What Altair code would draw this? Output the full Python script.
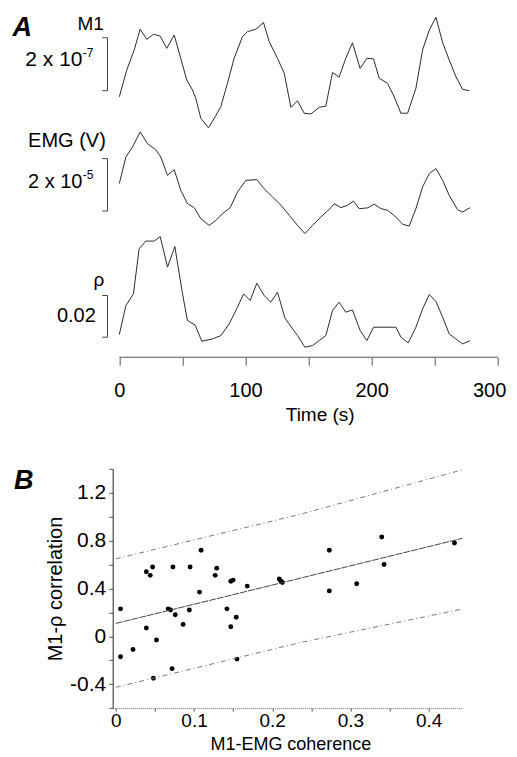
import altair as alt
import pandas as pd

FONT = "Liberation Sans"

# ---------------- Panel A data ----------------
m1_t = [0, 5.9, 11.8, 16.5, 21.8, 27.1, 32.4, 37.6, 43.5, 48.7, 53.5, 58.0, 60.6, 64.6, 70.7,
        76.0, 80.5, 85.7, 91.0, 97.6, 101.6, 108.2, 114.3, 118.8, 125.4, 130.7, 136.0, 141.2,
        146.5, 151.8, 158.4, 163.7, 169.0, 174.2, 179.5, 184.8, 190.9, 196.2, 201.5, 206.0,
        212.6, 217.9, 223.2, 228.5, 235.1, 240.4, 245.7, 251.0, 256.3, 261.5, 266.8, 272.1, 277.4]
m1_v = [-0.23, 0.78, 1.54, 2.32, 1.94, 2.13, 2.06, 1.60, 2.10, 1.22, 0.40, 0.03, -0.29, -1.04,
        -1.40, -0.98, -0.60, 0.28, 1.22, 2.04, 2.23, 2.32, 2.57, 1.85, 1.22, 0.66, -0.63, -0.38,
        -0.85, -0.88, -0.63, -0.58, 0.69, 0.51, 1.22, 1.81, 0.84, 1.22, 1.20, 0.47, 0.28, -0.23,
        -0.85, -0.85, 0.09, 1.54, 2.29, 2.77, 1.81, 1.16, 0.53, 0.05, 0.00]  # x 1e-7

emg_t = [0, 5.2, 10.4, 16.5, 22.3, 28.9, 32.9, 38.2, 43.5, 48.7, 54.0, 59.3, 64.6, 71.2, 76.5,
         81.8, 87.9, 93.7, 100.3, 109.0, 114.8, 121.4, 128.1, 134.7, 141.3, 147.1, 153.2, 159.8,
         167.8, 170.4, 175.7, 181.0, 185.6, 190.1, 196.8, 202.1, 207.4, 212.6, 219.3, 224.6,
         229.8, 235.1, 240.4, 245.7, 251.0, 256.3, 261.5, 268.1, 272.1, 278.1]
emg_v = [1.05, 2.06, 2.44, 3.02, 2.57, 2.34, 2.06, 1.36, 1.58, 0.79, 0.28, 0.13, -0.29, -0.55,
         -0.36, -0.10, 0.13, 0.73, 1.17, 1.20, 0.85, 0.54, 0.22, -0.16, -0.55, -0.86, -0.55,
         -0.23, 0.13, 0.28, 0.13, 0.22, 0.38, 0.09, 0.12, 0.26, 0.09, 0.03, -0.23, -0.51, -0.57,
         0.09, 0.92, 1.43, 1.62, 1.17, 0.60, 0.05, -0.04, 0.13]  # x 1e-5 V

rho_t = [0, 5.2, 11.2, 15.7, 21.0, 27.6, 32.4, 38.2, 44.0, 50.1, 54.0, 60.1, 65.4, 73.9, 80.5,
         87.1, 93.7, 98.5, 103.7, 109.0, 114.8, 120.1, 125.4, 131.2, 137.3, 141.3, 147.1, 153.2,
         158.4, 163.7, 169.0, 174.2, 179.5, 184.8, 190.9, 196.2, 201.5, 207.4, 219.3, 223.2,
         229.0, 235.1, 240.4, 245.7, 251.0, 256.3, 261.5, 266.8, 272.1, 278.1]
rho_v = [0.0013, 0.0152, 0.0208, 0.0424, 0.0461, 0.0461, 0.0483, 0.0336, 0.0435, 0.0208,
         0.0080, 0.0059, -0.0019, -0.0008, 0.0008, 0.0064, 0.0144, 0.0208, 0.0176, 0.0259,
         0.0200, 0.0168, 0.0216, 0.0093, 0.0040, 0.0008, -0.0048, -0.0040, -0.0016, 0.0008,
         0.0128, 0.0168, 0.0120, 0.0131, 0.0032, -0.0016, 0.0048, 0.0048, 0.0048, 0.0000,
         -0.0027, 0.0048, 0.0136, 0.0205, 0.0171, 0.0096, 0.0016, -0.0008, -0.0032, -0.0016]

m1_bar = [0, 2]
emg_bar = [0, 2]
rho_bar = [0, 0.02]
time_ticks = [0, 50, 100, 150, 200, 250, 300]

# ---------------- Panel B data ----------------
coh = [0.006, 0.006, 0.022, 0.039, 0.044, 0.047, 0.039, 0.052, 0.048, 0.072, 0.073, 0.067,
       0.070, 0.076, 0.086, 0.095, 0.094, 0.109, 0.107, 0.127, 0.129, 0.142, 0.147, 0.150,
       0.147, 0.154, 0.155, 0.168, 0.209, 0.211, 0.213, 0.273, 0.273, 0.308, 0.340, 0.343, 0.433]
corr = [0.23, -0.17, -0.11, 0.54, 0.51, 0.58, 0.07, -0.03, -0.35, -0.27, 0.58, 0.23, 0.22,
        0.18, 0.10, 0.58, 0.22, 0.72, 0.37, 0.51, 0.57, 0.23, 0.46, 0.47, 0.08, 0.16, -0.19,
        0.42, 0.48, 0.46, 0.45, 0.72, 0.38, 0.44, 0.83, 0.60, 0.78]
fit_x = [0, 0.237, 0.443]
fit_y = [0.108, 0.488, 0.819]
upper_y = [0.648, 1.022, 1.392]
lower_y = [-0.426, -0.05, 0.228]
x_ticks = [0, 0.05, 0.1, 0.15, 0.2, 0.25, 0.3, 0.35, 0.4]
y_ticks = [-0.6, -0.4, -0.2, 0, 0.2, 0.4, 0.6, 0.8, 1.0, 1.2, 1.4]

# ---------------- layout constants ----------------
XDOM = [-5.25, 300]
W = 385.1
one = pd.DataFrame({"a": [0]})


def label(text, x, y, size=19, align="right", weight="normal", style="normal"):
    return alt.Chart(one).mark_text(
        text=text, align=align, baseline="alphabetic", font=FONT, fontSize=size,
        fontWeight=weight, fontStyle=style, color="black"
    ).encode(x=alt.value(x), y=alt.value(y))


def trace_panel(t, v, ydom, h, bar, texts, axis=None, extra=None):
    ys = alt.Scale(domain=ydom, nice=False, zero=False)
    xs = alt.Scale(domain=XDOM, nice=False, zero=False)
    df = pd.DataFrame({"t": t, "v": v})
    line = alt.Chart(df).mark_line(color="#2a2a2a", strokeWidth=1).encode(
        x=alt.X("t:Q", scale=xs, axis=axis),
        y=alt.Y("v:Q", scale=ys, axis=None),
    )
    bdf = pd.DataFrame({"b0": [bar[0]], "b1": [bar[1]]})
    vbar = alt.Chart(bdf).mark_rule(color="#444", strokeWidth=1).encode(
        x=alt.value(-5.2), y=alt.Y("b0:Q", scale=ys, axis=None), y2="b1:Q"
    )
    tdf = pd.DataFrame({"b": bar})
    tick = alt.Chart(tdf).mark_rule(color="#444", strokeWidth=1).encode(
        x=alt.value(-10.5), x2=alt.value(-5.2), y=alt.Y("b:Q", scale=ys, axis=None)
    )
    layers = [line, vbar, tick] + texts
    if extra is not None:
        layers.append(extra)
    return alt.layer(*layers).properties(width=W, height=h)


# Panel 1 : M1
p1 = trace_panel(
    m1_t, m1_v, [-1.5, 2.9], 116.6, m1_bar,
    [
        label("A", -100.2, 22.2, size=27, align="left", weight="bold", style="italic"),
        label("M1", -8.9, 16.2, size=19),
        label("2 x 10", -30.2, 52.2, size=21),
        label("-7", -29.9, 43.2, size=12, align="left"),
    ],
)

# Panel 2 : EMG
p2 = trace_panel(
    emg_t, emg_v, [-0.9, 3.06], 103.75, emg_bar,
    [
        label("EMG (V)", -6.9, 16.5, size=20),
        label("2 x 10", -30.2, 57.5, size=20),
        label("-5", -29.9, 48.5, size=12, align="left"),
    ],
)

# Panel 3 : rho with time axis
H3 = 122.4
time_axis = alt.Axis(
    values=time_ticks,
    labelExpr="datum.value % 100 == 0 ? toString(datum.value) : ''",
    labelOverlap=False, labelFlush=True, labelFlushOffset=8,
    domain=False, grid=False, tickSize=8, tickColor="#555", tickWidth=1,
    labelFont=FONT, labelFontSize=20, labelColor="black", labelPadding=15,
    title="Time (s)", titleFont=FONT, titleFontSize=19, titleFontWeight="normal",
    titleColor="black", titleX=207, titleY=63, titleBaseline="alphabetic",
)
axis_df = pd.DataFrame({"t0": [time_ticks[0]], "t1": [time_ticks[-1]]})
axis_line = alt.Chart(axis_df).mark_rule(color="#555", strokeWidth=1).encode(
    x=alt.X("t0:Q", scale=alt.Scale(domain=XDOM, nice=False, zero=False)),
    x2="t1:Q",
    y=alt.value(H3),
)
p3 = trace_panel(
    rho_t, rho_v, [-0.0096, 0.0491], H3, rho_bar,
    [
        label("ρ", -13.9, 50.7, size=19, align="center"),
        label("0.02", -16.9, 87.4, size=20),
    ],
    axis=time_axis, extra=axis_line,
)

spacer = alt.Chart(one).mark_point(opacity=0).encode(
    x=alt.value(0), y=alt.value(0)
).properties(width=W, height=110.1)

# Panel B : scatter
xs = alt.Scale(domain=[-0.004, 0.443], nice=False, zero=False)
ys = alt.Scale(domain=[-0.6, 1.4], nice=False, zero=False)
x_axis = alt.Axis(
    values=x_ticks,
    labelExpr="round(datum.value*100) % 10 == 0 ? toString(round(datum.value*10)/10) : ''",
    labelOverlap=False, labelFlush=False,
    grid=False, tickSize=3, tickColor="#555", domainColor="#666", domainDash=[1, 1],
    labelFont=FONT, labelFontSize=19, labelColor="black", labelPadding=0,
    title="M1-EMG coherence", titleFont=FONT, titleFontSize=18, titleFontWeight="normal",
    titleColor="black", titleX=177.7, titleY=41, titleBaseline="alphabetic",
)
y_axis = alt.Axis(
    values=y_ticks,
    labelExpr="abs(datum.value - round(datum.value / 0.4) * 0.4) < 0.01 ? "
              "replace(format(datum.value, '.1~f'), '\u2212', '-') : ''",
    labelOverlap=False, labelFlush=False,
    grid=False, tickSize=4, tickColor="#555", domainColor="#222",
    labelFont=FONT, labelFontSize=21, labelColor="black", labelPadding=3,
    title="M1-ρ correlation", titleFont=FONT, titleFontSize=20, titleFontWeight="normal",
    titleColor="black", titleX=-51, titleBaseline="alphabetic",
)
sdf = pd.DataFrame({"coh": coh, "corr": corr})
pts = alt.Chart(sdf).mark_circle(size=24, color="black", opacity=1).encode(
    x=alt.X("coh:Q", scale=xs, axis=x_axis),
    y=alt.Y("corr:Q", scale=ys, axis=y_axis),
)
ldf = pd.DataFrame({"x": fit_x, "fit": fit_y, "up": upper_y, "lo": lower_y})


def band_line(field, color, dash):
    return alt.Chart(ldf).mark_line(color=color, strokeWidth=1, strokeDash=dash).encode(
        x=alt.X("x:Q", scale=xs, axis=x_axis), y=alt.Y(f"{field}:Q", scale=ys, axis=y_axis)
    )


fit_line = band_line("fit", "#444", [7, 1])
up_line = band_line("up", "#777", [5, 3, 1, 3])
lo_line = band_line("lo", "#777", [5, 3, 1, 3])

pB = alt.layer(
    pts, up_line, lo_line, fit_line,
    label("B", -98.6, 20, size=27, align="left", weight="bold", style="italic"),
).properties(width=349.6, height=239.3)

chart = alt.vconcat(p1, p2, p3, spacer, pB, spacing=0, bounds="flush").properties(
    padding={"left": 3.7, "top": 5.85, "right": 0, "bottom": 0},
    background="white",
).configure(font=FONT).configure_view(stroke="transparent", strokeWidth=0)

chart.save("out.html", embed_options={"renderer": "svg", "actions": False})
